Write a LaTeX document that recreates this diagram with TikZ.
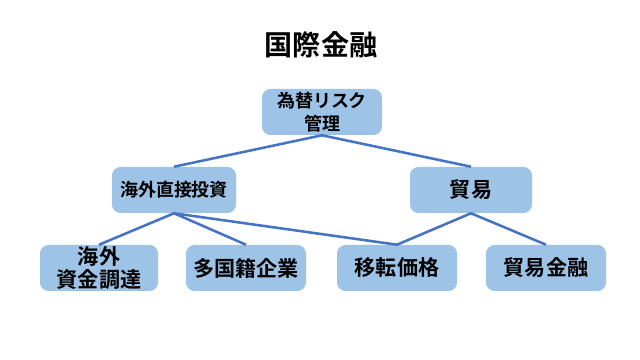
\documentclass[tikz,border=0pt]{standalone}
\usepackage{fontspec}
\setmainfont{Noto Sans CJK JP}[BoldFont={* Bold}]
\usepackage{xcolor}
\usepackage{tikz}
\usetikzlibrary{positioning}

\definecolor{boxblue}{HTML}{9DC3E6}
\definecolor{lineblue}{HTML}{4472C4}

\begin{document}
\begin{tikzpicture}[
    x=0.025cm, y=-0.025cm,
    every node/.style={font=\bfseries},
    topicbox/.style={fill=boxblue, rounded corners=6pt, minimum width=120*0.025cm,
        minimum height=46*0.025cm, align=center, inner sep=1pt,
        font=\fontsize{15}{16.5}\selectfont\bfseries},
    smallbox/.style={topicbox, font=\fontsize{12.8}{16}\selectfont\bfseries},
    link/.style={lineblue, line width=1.8pt}
]

% 画布
\useasboundingbox (0,0) rectangle (640,360);

% 标题
\node[font=\fontsize{20}{24}\selectfont\bfseries] (title) at (321,45) {国際金融};

% 第一层
\node[smallbox] (risk) at (322,112) {為替リスク\\管理};

% 第二层
\node[smallbox, minimum width=124*0.025cm] (fdi) at (174,190) {海外直接投資};
\node[topicbox, minimum width=122*0.025cm] (trade) at (471,190) {貿易};

% 第三层
\node[topicbox, minimum width=118*0.025cm] (funding) at (99,268) {海外\\資金調達};
\node[topicbox] (mnc) at (246,268) {多国籍企業};
\node[topicbox] (transfer) at (397,268) {移転価格};
\node[topicbox] (tradefin) at (546,268) {貿易金融};

% 连线
\draw[link] (risk.south) -- (fdi.north);
\draw[link] (risk.south) -- (trade.north);
\draw[link] (fdi.south) -- (funding.north);
\draw[link] (fdi.south) -- (mnc.north);
\draw[link] (fdi.south) -- (transfer.north);
\draw[link] (trade.south) -- (transfer.north);
\draw[link] (trade.south) -- (tradefin.north);

\end{tikzpicture}
\end{document}
